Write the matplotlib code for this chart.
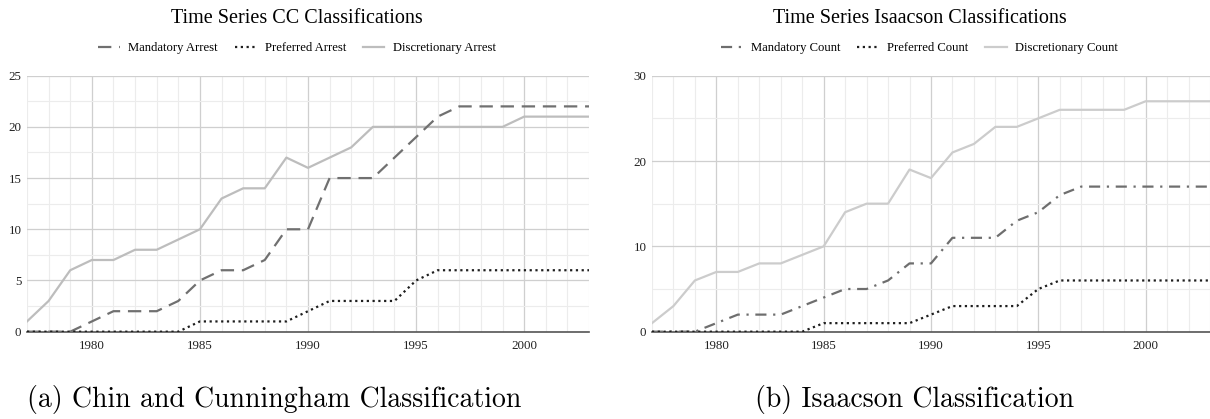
import matplotlib.pyplot as plt
from matplotlib.ticker import MultipleLocator

# data
years = list(range(1977, 2004))

cc_mandatory = [0, 0, 0, 1, 2, 2, 2, 3, 5, 6, 6, 7, 10, 10, 15, 15, 15, 17, 19, 21,
                22, 22, 22, 22, 22, 22, 22]
cc_preferred = [0, 0, 0, 0, 0, 0, 0, 0, 1, 1, 1, 1, 1, 2, 3, 3, 3, 3, 5, 6,
                6, 6, 6, 6, 6, 6, 6]
cc_discretionary = [1, 3, 6, 7, 7, 8, 8, 9, 10, 13, 14, 14, 17, 16, 17, 18, 20, 20, 20, 20,
                    20, 20, 20, 21, 21, 21, 21]

is_mandatory = [0, 0, 0, 1, 2, 2, 2, 3, 4, 5, 5, 6, 8, 8, 11, 11, 11, 13, 14, 16,
                17, 17, 17, 17, 17, 17, 17]
is_preferred = [0, 0, 0, 0, 0, 0, 0, 0, 1, 1, 1, 1, 1, 2, 3, 3, 3, 3, 5, 6,
                6, 6, 6, 6, 6, 6, 6]
is_discretionary = [1, 3, 6, 7, 7, 8, 8, 9, 10, 14, 15, 15, 19, 18, 21, 22, 24, 24, 25, 26,
                    26, 26, 26, 27, 27, 27, 27]

serif = ['Liberation Serif', 'DejaVu Serif']
plt.rcParams['font.family'] = serif

fig = plt.figure(figsize=(12.10, 4.19), dpi=100)


def style_axes(ax, ymax, ymajor, yminor):
    ax.set_xlim(1977, 2003)
    ax.set_ylim(0, ymax)
    ax.xaxis.set_major_locator(MultipleLocator(5))
    ax.xaxis.set_minor_locator(MultipleLocator(1))
    ax.yaxis.set_major_locator(MultipleLocator(ymajor))
    ax.yaxis.set_minor_locator(MultipleLocator(yminor))
    ax.grid(True, which='major', color='#cfcfcf', linewidth=0.9)
    ax.grid(True, which='minor', color='#ececec', linewidth=0.8)
    ax.set_axisbelow(True)
    for s in ['top', 'right', 'left']:
        ax.spines[s].set_visible(False)
    ax.spines['bottom'].set_color('#555555')
    ax.spines['bottom'].set_linewidth(1.2)
    ax.tick_params(which='both', length=0, labelsize=9.4, colors='#222222')
    ax.tick_params(axis='y', pad=4)
    ax.tick_params(axis='x', pad=6)
    ax.set_xticks([1980, 1985, 1990, 1995, 2000])


# left: Chin and Cunningham
ax1 = fig.add_axes([0.0223, 0.2084, 0.4645, 0.611])
ax1.plot(years, cc_discretionary, color='#bdbdbd', lw=1.6, label='Discretionary Arrest', zorder=3)
ax1.plot(years, cc_mandatory, color='#707070', lw=1.6, dashes=(6, 3.5), label='Mandatory Arrest', zorder=4)
ax1.plot(years, cc_preferred, color='#1e1e1e', lw=1.6, dashes=(1, 1.6), label='Preferred Arrest', zorder=5)
style_axes(ax1, 25, 5, 2.5)

# right: Isaacson
ax2 = fig.add_axes([0.5388, 0.2084, 0.4612, 0.611])
ax2.plot(years, is_discretionary, color='#cccccc', lw=1.6, label='Discretionary Count', zorder=3)
ax2.plot(years, is_mandatory, color='#6e6e6e', lw=1.6, dashes=(5, 3, 1, 3), label='Mandatory Count', zorder=4)
ax2.plot(years, is_preferred, color='#1e1e1e', lw=1.6, dashes=(1, 1.6), label='Preferred Count', zorder=5)
style_axes(ax2, 30, 10, 5)

# titles and legends
fig.text(0.2455, 0.957, 'Time Series CC Classifications', ha='center', va='center', fontsize=14.5)
fig.text(0.760, 0.957, 'Time Series Isaacson Classifications', ha='center', va='center', fontsize=14.5)

for ax, xc in [(ax1, 0.2455), (ax2, 0.760)]:
    h, l = ax.get_legend_handles_labels()
    order = [1, 2, 0]
    fig.legend([h[i] for i in order], [l[i] for i in order], loc='center',
               bbox_to_anchor=(xc, 0.885), ncol=3, frameon=False, fontsize=9.1,
               handlelength=1.7, columnspacing=1.3, handletextpad=0.7)

# captions
cap = ['cmr10', 'DejaVu Serif']
fig.text(0.227, 0.046, '(a) Chin and Cunningham Classification', ha='center', va='center',
         fontsize=20, family=cap)
fig.text(0.756, 0.046, '(b) Isaacson Classification', ha='center', va='center',
         fontsize=20, family=cap)

plt.savefig('out.png', dpi=100)
plt.close()
